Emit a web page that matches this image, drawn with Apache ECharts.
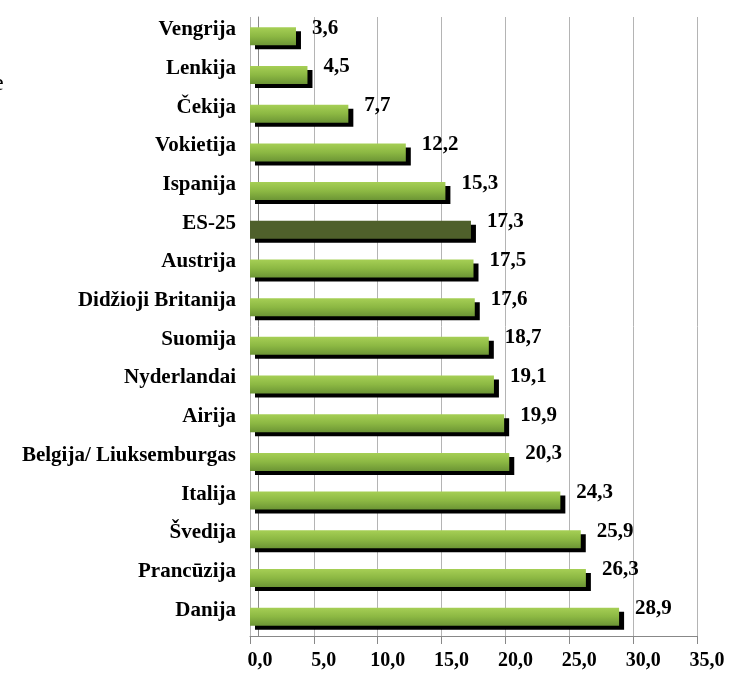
<!DOCTYPE html>
<html>
<head>
<meta charset="utf-8">
<script src="https://cdn.jsdelivr.net/npm/echarts@6/dist/echarts.min.js"></script>
<style>html,body{margin:0;padding:0;background:#fff;}#c{width:730px;height:673px;}</style>
</head>
<body>
<div id="c"></div>
<script>
const categories = ["Vengrija","Lenkija","Čekija","Vokietija","Ispanija","ES-25","Austrija","Didžioji Britanija","Suomija","Nyderlandai","Airija","Belgija/ Liuksemburgas","Italija","Švedija","Prancūzija","Danija"];
const values = [3.6,4.5,7.7,12.2,15.3,17.3,17.5,17.6,18.7,19.1,19.9,20.3,24.3,25.9,26.3,28.9];
const highlight = "ES-25";
const xTicks = {min:0, max:35, interval:5};

const fontFam = '"Liberation Serif","Times New Roman",serif';
const greenGrad = {type:'linear',x:0,y:0,x2:0,y2:1,colorStops:[{offset:0,color:'#a6cf55'},{offset:0.5,color:'#8cb843'},{offset:1,color:'#6c9535'}]};
const dark = '#4f602b';

const chart = echarts.init(document.getElementById('c'));
chart.setOption({
  animation:false,
  grid:{left:250,right:33,top:17,bottom:37,containLabel:false},
  xAxis:{
    type:'value',min:xTicks.min,max:xTicks.max,interval:xTicks.interval,
    axisLine:{show:true,lineStyle:{color:'#888',width:1}},
    axisTick:{show:true,length:8,lineStyle:{color:'#888'}},
    splitLine:{show:true,lineStyle:{color:'#b4b4b4',width:1}},
    axisLabel:{margin:15,color:'#000',fontFamily:fontFam,fontWeight:'bold',fontSize:20,padding:[0,0,0,20],
      formatter:v=>v.toFixed(1).replace('.',',')}
  },
  yAxis:{
    type:'category',data:categories,inverse:true,offset:-8,
    axisLine:{show:true,lineStyle:{color:'#888',width:1}},
    axisTick:{show:false},
    axisLabel:{margin:22,color:'#000',fontFamily:fontFam,fontWeight:'bold',fontSize:21,verticalAlign:'bottom',lineHeight:13}
  },
  series:[{
    type:'bar',
    barWidth:18,
    data:values.map((v,i)=>({value:v,itemStyle:{color:categories[i]===highlight?dark:greenGrad}})),
    itemStyle:{shadowColor:'#000',shadowBlur:0,shadowOffsetX:5,shadowOffsetY:4},
    label:{show:true,position:'right',distance:16,offset:[0,-8],color:'#000',fontFamily:fontFam,fontWeight:'bold',fontSize:21,
      formatter:p=>p.value.toFixed(1).replace('.',',')}
  }],
  graphic:[{type:'text',left:-7,top:72,style:{text:'ė',font:'24px '+fontFam,fill:'#000'}}]
});
</script>
</body>
</html>
